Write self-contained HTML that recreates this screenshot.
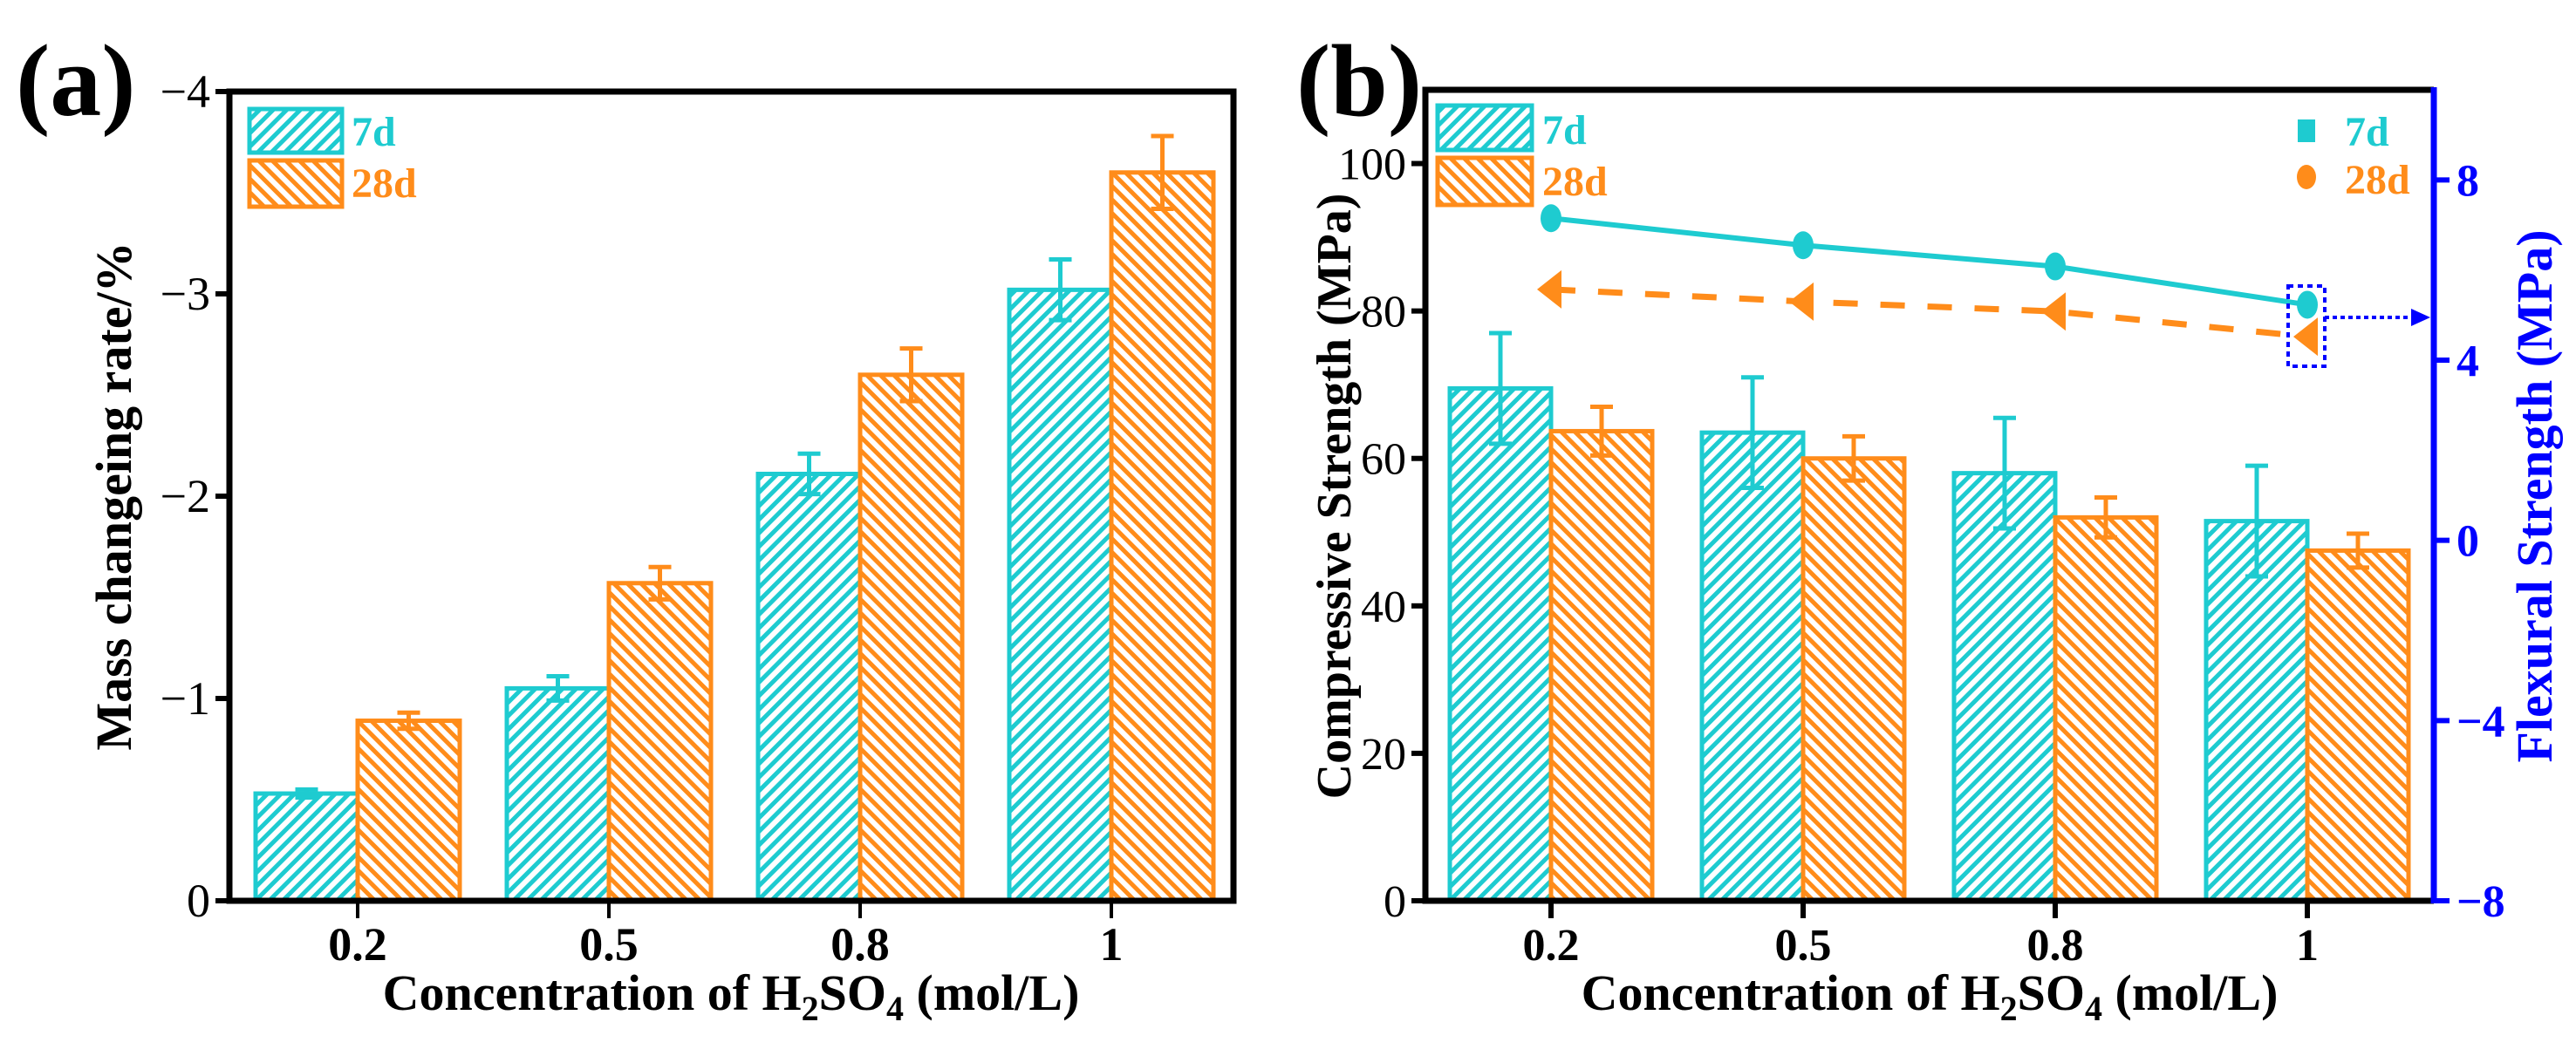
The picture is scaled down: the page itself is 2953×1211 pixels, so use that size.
<!DOCTYPE html>
<html><head><meta charset="utf-8"><style>
html,body{margin:0;padding:0;background:#fff}
svg{display:block;font-family:"Liberation Serif",serif;font-weight:bold}
</style></head><body>
<svg id="fig" width="2953" height="1211" viewBox="0 0 2953 1211" xmlns="http://www.w3.org/2000/svg">
<defs>
<pattern id="hatchC" patternUnits="userSpaceOnUse" width="11" height="11" patternTransform="rotate(45)">
<rect width="11" height="11" fill="#fff"/><rect x="0" y="0" width="5" height="11" fill="#1ECBD0"/></pattern>
<pattern id="hatchO" patternUnits="userSpaceOnUse" width="11" height="11" patternTransform="rotate(-45)">
<rect width="11" height="11" fill="#fff"/><rect x="0" y="0" width="5" height="11" fill="#FF8C1A"/></pattern>
</defs>
<g id="pa"></g>
<g id="pb"></g>
</svg>
<script>
const categories = ["0.2","0.5","0.8","1"];
const massTicks = [0,-1,-2,-3,-4];
const mass7d = [-0.53,-1.05,-2.11,-3.02];
const mass7dErr = [0.02,0.06,0.10,0.15];
const mass28d = [-0.89,-1.57,-2.60,-3.60];
const mass28dErr = [0.04,0.08,0.13,0.18];
const compTicks = [0,20,40,60,80,100];
const comp7d = [69.5,63.5,58.0,51.5];
const comp7dErr = [7.5,7.5,7.5,7.5];
const comp28d = [63.7,60.0,52.0,47.5];
const comp28dErr = [3.3,3.0,2.7,2.3];
const flexTicks = [-8,-4,0,4,8];
const flex7d = [7.15,6.55,6.08,5.23];
const flex28d = [5.57,5.30,5.08,4.52];

const NS="http://www.w3.org/2000/svg";
const CY="#1ECBD0", OR="#FF8C1A", BL="#0000FF";
function mk(parent,tag,attrs,text){const e=document.createElementNS(NS,tag);for(const k in attrs)e.setAttribute(k,attrs[k]);if(text!==undefined)e.textContent=text;parent.appendChild(e);return e;}

function bars(g,xs,vals,errs,y,fill,stroke,off,bw,name){
  vals.forEach((v,i)=>{
    const x=xs(i)+off, yt=Math.min(y(v),y(0)), h=Math.abs(y(0)-y(v));
    const r=mk(g,"rect",{x:x,y:yt,width:bw,height:h,fill:fill,stroke:stroke,"stroke-width":5});
    
    
    const cx=x+bw/2, yh=y(v+(v<0?-errs[i]:errs[i])), yl=y(v-(v<0?-errs[i]:errs[i]));
    const e=mk(g,"path",{d:`M${cx},${yh}V${yl}M${cx-13},${yh}H${cx+13}M${cx-13},${yl}H${cx+13}`,stroke:stroke,"stroke-width":5,fill:"none"});
    
    
  });
}

// Panel A
(function(){
  const g=document.getElementById("pa");
  const L=263,R=1414,T=105,B=1033;
  const xs=i=>L+147+i*288;
  const y=v=>B+(v/4)*(B-T);
  mk(g,"text",{x:18,y:132,"font-size":118,},"(a)");
  bars(g,xs,mass7d,mass7dErr,y,"url(#hatchC)",CY,-117,117,"mass-7d");
  bars(g,xs,mass28d,mass28dErr,y,"url(#hatchO)",OR,0,117,"mass-28d");
  mk(g,"rect",{x:L,y:T,width:R-L,height:B-T,fill:"none",stroke:"#000","stroke-width":7,});
  massTicks.forEach(t=>{
    const tk=mk(g,"line",{x1:L-16,x2:L,y1:y(t),y2:y(t),stroke:"#000","stroke-width":6});
    
    
    const tl=mk(g,"text",{x:L-22,y:y(t)+18,"text-anchor":"end","font-size":54,"font-weight":"normal"},t===0?"0":"\u2212"+Math.abs(t));
    
    
  });
  categories.forEach((c,i)=>{
    mk(g,"line",{x1:xs(i),x2:xs(i),y1:B,y2:B+20,stroke:"#000","stroke-width":4});
    const tl=mk(g,"text",{x:xs(i),y:1101,"text-anchor":"middle","font-size":54},c);
    
    
  });
  const xt=mk(g,"text",{x:838,y:1158,"text-anchor":"middle","font-size":58,});
  xt.innerHTML='Concentration of H<tspan dy="12" font-size="40">2</tspan><tspan dy="-12">SO</tspan><tspan dy="12" font-size="40">4</tspan><tspan dy="-12"> (mol/L)</tspan>';
  mk(g,"text",{x:0,y:0,transform:"translate(150,569) rotate(-90)","text-anchor":"middle","font-size":58,},"Mass changeing rate/%");
  mk(g,"rect",{x:286,y:125,width:106,height:50,fill:"url(#hatchC)",stroke:CY,"stroke-width":5,});
  mk(g,"rect",{x:286,y:184,width:106,height:53,fill:"url(#hatchO)",stroke:OR,"stroke-width":5,});
  mk(g,"text",{x:403,y:167,fill:CY,"font-size":48,},"7d");
  mk(g,"text",{x:403,y:226,fill:OR,"font-size":48,},"28d");
})();

// Panel B
(function(){
  const g=document.getElementById("pb");
  const L=1634,R=2790,T=103,B=1033;
  const xs=i=>L+144+i*289;
  const y=v=>B-(v/110)*(B-T);
  const y2=v=>B-((v+8)/18)*(B-T);
  mk(g,"text",{x:1486,y:132,"font-size":118,},"(b)");
  bars(g,xs,comp7d,comp7dErr,y,"url(#hatchC)",CY,-116,116,"comp-7d");
  bars(g,xs,comp28d,comp28dErr,y,"url(#hatchO)",OR,0,116,"comp-28d");
  mk(g,"path",{d:`M${R},${T}H${L}V${B}H${R}`,fill:"none",stroke:"#000","stroke-width":7,});
  mk(g,"line",{x1:R,x2:R,y1:T-3,y2:B+3,stroke:BL,"stroke-width":7,});
  compTicks.forEach(t=>{
    mk(g,"line",{x1:L-16,x2:L,y1:y(t),y2:y(t),stroke:"#000","stroke-width":6});
    const tl=mk(g,"text",{x:L-22,y:y(t)+18,"text-anchor":"end","font-size":52,"font-weight":"normal"},String(t));
    
    
  });
  flexTicks.forEach(t=>{
    mk(g,"line",{x1:R,x2:R+18,y1:y2(t),y2:y2(t),stroke:BL,"stroke-width":6});
    const tl=mk(g,"text",{x:R+26,y:y2(t)+18,fill:BL,"font-size":52},t<0?"\u2212"+Math.abs(t):String(t));
    
    
  });
  categories.forEach((c,i)=>{
    mk(g,"line",{x1:xs(i),x2:xs(i),y1:B,y2:B+20,stroke:"#000","stroke-width":6});
    const tl=mk(g,"text",{x:xs(i),y:1101,"text-anchor":"middle","font-size":52},c);
    
    
  });
  const xt=mk(g,"text",{x:2212,y:1158,"text-anchor":"middle","font-size":58,});
  xt.innerHTML='Concentration of H<tspan dy="12" font-size="40">2</tspan><tspan dy="-12">SO</tspan><tspan dy="12" font-size="40">4</tspan><tspan dy="-12"> (mol/L)</tspan>';
  mk(g,"text",{x:0,y:0,transform:"translate(1548,569) rotate(-90)","text-anchor":"middle","font-size":56,},"Compressive Strength (MPa)");
  mk(g,"text",{x:0,y:0,transform:"translate(2925,569) rotate(-90)","text-anchor":"middle","font-size":58,fill:BL,},"Flexural Strength (MPa)");
  const p7=flex7d.map((v,i)=>`${i?"L":"M"}${xs(i)},${y2(v)}`).join("");
  mk(g,"path",{d:p7,fill:"none",stroke:CY,"stroke-width":6,});
  const p28=flex28d.map((v,i)=>`${i?"L":"M"}${xs(i)},${y2(v)}`).join("");
  mk(g,"path",{d:p28,fill:"none",stroke:OR,"stroke-width":7,"stroke-dasharray":"28,26",});
  flex7d.forEach((v,i)=>{
    const c=mk(g,"ellipse",{cx:xs(i),cy:y2(v),rx:12,ry:16,fill:CY});
    
    
  });
  flex28d.forEach((v,i)=>{
    const x=xs(i),yy=y2(v);
    const t=mk(g,"path",{d:`M${x-16},${yy}L${x+12},${yy-22}L${x+12},${yy+22}Z`,fill:OR});
    
    
  });
  const lx=xs(3);
  mk(g,"rect",{x:lx-22,y:328,width:42,height:92,fill:"none",stroke:BL,"stroke-width":4,"stroke-dasharray":"6,5",});
  mk(g,"line",{x1:lx+20,x2:R-18,y1:364,y2:364,stroke:BL,"stroke-width":4,"stroke-dasharray":"5,4",});
  mk(g,"path",{d:`M${R-4},364L${R-26},354L${R-26},374Z`,fill:BL});
  mk(g,"rect",{x:1648,y:121,width:108,height:51,fill:"url(#hatchC)",stroke:CY,"stroke-width":5,});
  mk(g,"rect",{x:1648,y:181,width:108,height:54,fill:"url(#hatchO)",stroke:OR,"stroke-width":5,});
  mk(g,"text",{x:1768,y:165,fill:CY,"font-size":48,},"7d");
  mk(g,"text",{x:1768,y:224,fill:OR,"font-size":48,},"28d");
  mk(g,"rect",{x:2634,y:137,width:20,height:26,fill:CY,});
  mk(g,"ellipse",{cx:2644,cy:203,rx:11,ry:14,fill:OR,});
  mk(g,"text",{x:2688,y:167,fill:CY,"font-size":48,},"7d");
  mk(g,"text",{x:2688,y:222,fill:OR,"font-size":48,},"28d");
})();
</script>
</body></html>
